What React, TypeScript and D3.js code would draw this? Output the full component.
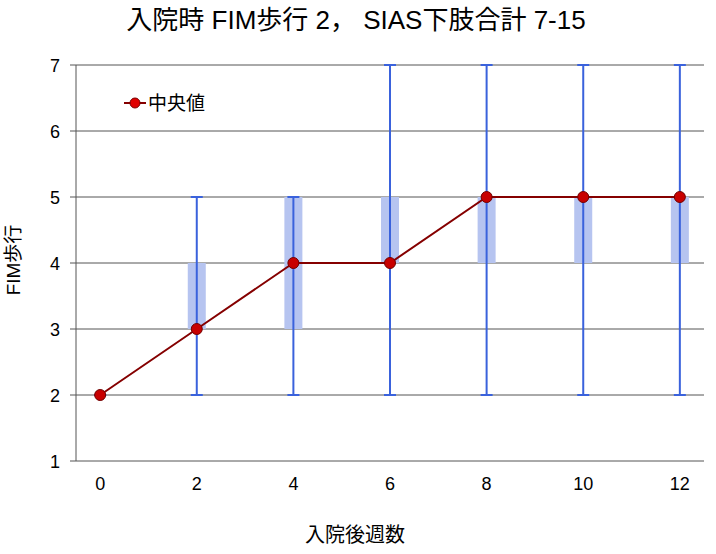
import * as d3 from "d3";

const weeks = [0, 2, 4, 6, 8, 10, 12];
const medians = [2, 3, 4, 4, 5, 5, 5];
const q1 = [2, 3, 3, 4, 4, 4, 4];
const q3 = [2, 4, 5, 5, 5, 5, 5];
const mins = [2, 2, 2, 2, 2, 2, 2];
const maxs = [2, 5, 5, 7, 7, 7, 7];
const yTicks = [1, 2, 3, 4, 5, 6, 7];

const W = 716;
const H = 554;
const font = "'Liberation Sans', 'Noto Sans CJK JP', sans-serif";

export default function App() {
  const x = d3.scaleLinear().domain([-0.5, 12.5]).range([76, 704]);
  const y = d3.scaleLinear().domain([1, 7]).range([461, 65]);
  const line = d3
    .line<number>()
    .x((_, i) => x(weeks[i]))
    .y((d) => y(d));

  return (
    <svg
      width={W}
      height={H}
      style={{ position: "absolute", left: 0, top: 0, background: "#fff" }}
      fontFamily={font}
    >
      <text x={356} y={29} textAnchor="middle" fontSize={26} fill="#000" xmlSpace="preserve">
        入院時 FIM歩行 2， SIAS下肢合計 7-15
      </text>

      {/* grid */}
      {yTicks.map((t) => (
        <g key={t}>
          <line x1={70} x2={704} y1={y(t)} y2={y(t)} stroke="#555" strokeWidth={1} />
          <text x={60} y={y(t) + 6.5} textAnchor="end" fontSize={18} fill="#000">
            {t}
          </text>
        </g>
      ))}
      <line x1={76} x2={76} y1={y(7)} y2={y(1)} stroke="#555" strokeWidth={1} />

      {weeks.map((w) => (
        <text key={w} x={x(w)} y={490} textAnchor="middle" fontSize={18} fill="#000">
          {w}
        </text>
      ))}

      {/* boxes */}
      {weeks.map((w, i) =>
        q3[i] > q1[i] ? (
          <rect
            key={"b" + w}
            x={x(w) - 9}
            width={18}
            y={y(q3[i])}
            height={y(q1[i]) - y(q3[i])}
            fill="#b6c4f0"
          />
        ) : null
      )}

      {/* whiskers */}
      {weeks.map((w, i) => (
        <g key={"w" + w} stroke="#3a62dc" strokeWidth={2}>
          <line x1={x(w)} x2={x(w)} y1={y(maxs[i])} y2={y(mins[i])} />
          <line x1={x(w) - 6} x2={x(w) + 6} y1={y(maxs[i])} y2={y(maxs[i])} />
          <line x1={x(w) - 6} x2={x(w) + 6} y1={y(mins[i])} y2={y(mins[i])} />
        </g>
      ))}

      {/* median */}
      <path d={line(medians) ?? ""} fill="none" stroke="#850000" strokeWidth={2} />
      {medians.map((m, i) => (
        <circle
          key={"m" + i}
          cx={x(weeks[i])}
          cy={y(m)}
          r={5.5}
          fill="#c80000"
          stroke="#700000"
          strokeWidth={1}
        />
      ))}

      {/* legend */}
      <line x1={124} x2={146} y1={103} y2={103} stroke="#850000" strokeWidth={2} />
      <circle cx={135} cy={103} r={5} fill="#e00000" stroke="#7a0000" strokeWidth={1} />
      <text x={148} y={110} fontSize={19} fill="#000">
        中央値
      </text>

      <text
        transform={`translate(20,260) rotate(-90)`}
        textAnchor="middle"
        fontSize={19}
        fill="#000"
      >
        FIM歩行
      </text>
      <text x={355} y={542} textAnchor="middle" fontSize={20} fill="#000">
        入院後週数
      </text>
    </svg>
  );
}
